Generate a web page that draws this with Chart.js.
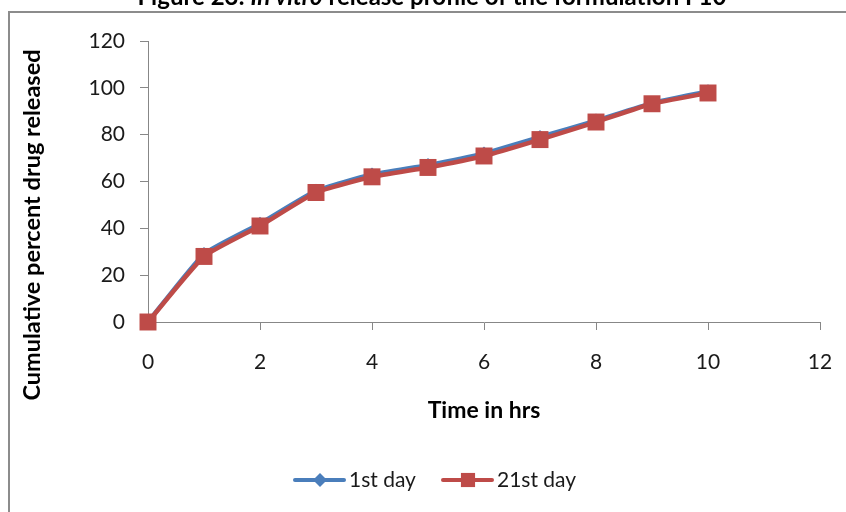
<!DOCTYPE html>
<html>
<head>
<meta charset="utf-8">
<script src="https://cdn.jsdelivr.net/npm/chart.js@4/dist/chart.umd.min.js"></script>
<style>
  html, body { margin: 0; padding: 0; background: #fff; overflow: hidden; }
  #wrap { position: relative; width: 846px; height: 512px; }
  #frame {
    position: absolute; left: 8px; top: 11px; width: 900px; height: 600px;
    border-top: 2px solid #8c8c8c; border-left: 2px solid #8c8c8c;
  }
  canvas { position: absolute; left: 0; top: 0; }
</style>
</head>
<body>
<div id="wrap">
  <div id="frame"></div>
  <canvas id="release-chart" width="846" height="512"></canvas>
</div>
<script>
// 방출 시험 데이터 (시간, 누적 방출률 %)
const hours = [0, 1, 2, 3, 4, 5, 6, 7, 8, 9, 10];
const day1Release = [0, 29, 42, 56, 63, 67, 72, 79, 86, 93.5, 98.5];
const day21Release = [0, 28, 41, 55.3, 62, 66, 70.9, 77.9, 85.4, 93.2, 97.8];
const yTicks = [0, 20, 40, 60, 80, 100, 120];
const xTicks = [0, 2, 4, 6, 8, 10, 12];

// 제목은 굵게, "In vitro" 부분만 기울임
const titleParts = [
    { text: 'Figure 23: ', italic: false },
    { text: 'In vitro', italic: true },
    { text: ' release profile of the formulation F10', italic: false }
];
const xTitle = 'Time in hrs';
const yTitle = 'Cumulative percent drug released';
const seriesNames = ['1st day', '21st day'];

const BLUE = '#4a7ebb';
const RED = '#be4b48';
const FONT = 'Lato, "Open Sans", sans-serif';

function toPoints(xs, ys) {
    return xs.map((x, i) => ({ x: x, y: ys[i] }));
}

// 제목, 축 제목, 범례를 직접 그림
const decorPlugin = {
    id: 'decor',
    afterDraw(chart) {
        const ctx = chart.ctx;
        const area = chart.chartArea;
        ctx.save();
        ctx.fillStyle = '#000';
        ctx.textBaseline = 'alphabetic';
        ctx.textAlign = 'left';

        // 상단 제목 (잘린 상태)
        const fontOf = p => (p.italic ? 'italic ' : '') + 'bold 24px ' + FONT;
        let total = 0;
        titleParts.forEach(p => { ctx.font = fontOf(p); total += ctx.measureText(p.text).width; });
        let tx = 432 - total / 2;
        titleParts.forEach(p => {
            ctx.font = fontOf(p);
            ctx.fillText(p.text, tx, 5);
            tx += ctx.measureText(p.text).width;
        });

        // x축 제목
        ctx.font = 'bold 23px ' + FONT;
        ctx.textAlign = 'center';
        ctx.textBaseline = 'middle';
        ctx.fillText(xTitle, (area.left + area.right) / 2, 411);

        // y축 제목
        ctx.font = 'bold 23.5px ' + FONT;
        ctx.translate(32, 225);
        ctx.rotate(-Math.PI / 2);
        ctx.fillText(yTitle, 0, 0);
        ctx.restore();

        // 범례
        ctx.save();
        ctx.font = '21px ' + FONT;
        ctx.textAlign = 'left';
        ctx.textBaseline = 'middle';
        const items = [
            { x: 295, color: BLUE, style: 'rectRot', r: 7, label: seriesNames[0] },
            { x: 443, color: RED, style: 'rect', r: 10, label: seriesNames[1] }
        ];
        const ly = 480;
        items.forEach(it => {
            ctx.strokeStyle = it.color;
            ctx.lineWidth = 4;
            ctx.lineCap = 'round';
            ctx.beginPath();
            ctx.moveTo(it.x, ly);
            ctx.lineTo(it.x + 49, ly);
            ctx.stroke();
            ctx.fillStyle = it.color;
            Chart.helpers.drawPoint(ctx, { pointStyle: it.style, radius: it.r, borderWidth: 0 }, it.x + 25, ly);
            ctx.fillStyle = '#1a1a1a';
            ctx.fillText(it.label, it.x + 54, ly);
        });
        ctx.restore();
    }
};

new Chart(document.getElementById('release-chart'), {
    type: 'line',
    data: {
        datasets: [
            {
                label: seriesNames[0],
                data: toPoints(hours, day1Release),
                borderColor: BLUE,
                backgroundColor: BLUE,
                borderWidth: 4.5,
                pointStyle: 'rectRot',
                pointRadius: 7,
                pointBorderWidth: 0,
                tension: 0.15,
                clip: false,
                order: 2
            },
            {
                label: seriesNames[1],
                data: toPoints(hours, day21Release),
                borderColor: RED,
                backgroundColor: RED,
                borderWidth: 4.5,
                pointStyle: 'rect',
                pointRadius: 12,
                pointBorderWidth: 0,
                tension: 0.15,
                clip: false,
                order: 1
            }
        ]
    },
    options: {
        responsive: false,
        devicePixelRatio: 1,
        animation: false,
        layout: { padding: { left: 0, top: 41, right: 26, bottom: 130 } },
        plugins: {
            legend: { display: false },
            tooltip: { enabled: false },
            title: { display: false }
        },
        scales: {
            x: {
                type: 'linear',
                min: 0,
                max: 12,
                afterBuildTicks: s => { s.ticks = xTicks.map(v => ({ value: v })); },
                afterFit: s => { s.height = 60; s.paddingLeft = 0; s.paddingRight = 0; },
                ticks: { color: '#1a1a1a', font: { family: FONT, size: 21 }, padding: 20 },
                grid: { drawOnChartArea: false, drawTicks: true, tickLength: 8, color: '#878787' },
                border: { color: '#878787', width: 1 }
            },
            y: {
                min: 0,
                max: 120,
                afterBuildTicks: s => { s.ticks = yTicks.map(v => ({ value: v })); },
                afterFit: s => { s.width = 148; },
                ticks: { color: '#1a1a1a', font: { family: FONT, size: 21 }, padding: 15 },
                grid: { drawOnChartArea: false, drawTicks: true, tickLength: 8, color: '#878787' },
                border: { color: '#878787', width: 1 }
            }
        }
    },
    plugins: [decorPlugin]
});
</script>
</body>
</html>
